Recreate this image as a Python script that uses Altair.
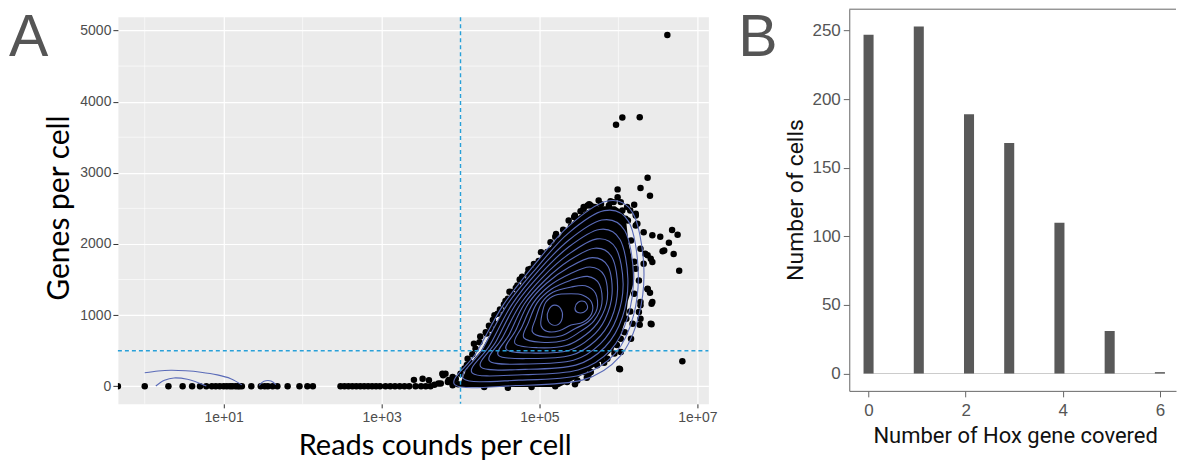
import altair as alt
import pandas as pd

# ======================= Panel A data =======================
# x values are log10(read count per cell); y values are genes per cell
zero_log10_reads = [-0.34, 0.00, 0.30, 0.48, 0.60, 0.70, 0.78, 0.85, 0.90, 0.95, 1.00, 1.04, 1.08,
                    1.11, 1.15, 1.18, 1.20, 1.23, 1.35, 1.47, 1.52, 1.56, 1.62, 1.68, 1.81, 1.96,
                    2.06, 2.13, 2.48, 2.53, 2.58, 2.63, 2.68, 2.73, 2.78, 2.83, 2.88, 2.93, 2.98,
                    3.05, 3.11, 3.17, 3.23, 3.29, 3.35, 3.41, 3.43, 3.50, 3.52, 3.56, 3.60, 3.62,
                    3.67, 3.72, 3.77, 3.78, 3.84, 3.90, 3.90, 3.94]
zero_genes = [0, 0, 0, 0, 0, 0, 0, 0, 0, 0, 0, 0, 0,
              0, 0, 0, 0, 0, 0, 0, 0, 0, 0, 0, 0, 0,
              0, 0, 0, 0, 0, 0, 0, 0, 0, 0, 0, 0, 0,
              0, 0, 0, 0, 0, 0, 90, 0, 0, 107, 0, 84, 0,
              20, 40, 177, 154, 60, 14, 60, 107]

# cells around the edge of the main cloud and outliers
cloud_log10_reads = [4.47, 4.43, 4.38, 4.17, 4.19, 4.09, 4.00, 3.90, 3.81, 4.64, 4.66, 4.81, 4.97,
                     5.10, 5.14, 5.23, 4.43, 4.72, 4.89, 5.02, 5.14, 5.27, 5.48, 5.61, 5.56, 5.82,
                     5.94, 6.03, 6.11, 6.22,
                     6.62, 6.05, 5.97, 6.27, 6.37, 5.99, 6.28, 6.40, 5.63, 5.99,
                     6.43, 6.53, 6.68, 6.75, 6.64, 6.56, 6.70, 6.77, 6.37, 6.40, 6.42, 6.42, 6.27,
                     6.81, 6.02, 6.22, 6.28, 6.37, 6.43, 6.32, 6.24, 6.32, 6.28, 6.28, 6.16, 6.03,
                     5.86, 5.73, 5.56, 5.35, 6.09, 6.22, 6.58, 6.34, 6.41, 6.22, 6.26, 6.37, 6.28,
                     6.43, 6.26, 6.18, 6.41, 6.03, 5.90, 5.78, 6.01, 5.65, 5.56, 5.65,
                     3.75, 3.85, 3.97, 4.05, 4.12, 4.25, 4.32, 4.55, 4.60, 4.75, 4.85, 4.93, 5.05,
                     5.20, 5.32, 5.40, 5.45, 5.52, 5.70, 5.78, 5.88, 6.15, 4.30, 4.60, 4.90, 5.20,
                     5.45, 5.60,
                     4.08, 4.15, 4.24, 4.33, 4.36, 4.41, 4.50, 4.57, 4.62, 4.70, 4.78, 4.86, 4.99,
                     5.06, 5.21, 5.30, 5.37, 5.44,
                     6.12, 6.20, 6.15, 6.10, 6.08, 5.98, 5.95, 5.82, 5.62, 5.48, 6.16, 6.20, 6.12,
                     6.05, 5.90, 5.75, 6.20]
cloud_genes = [1019, 879, 809, 598, 528, 388, 177, 131, 177, 1324, 1278, 1464, 1605,
               1886, 1909, 2027, 997, 1418, 1651, 1884, 2024, 2024, 2307, 2541, 2494, 2423,
               2588, 2588, 2518, 2423,
               4938, 3778, 3674, 3782, 2930, 2767, 2785, 2677, 2560, 2658,
               2121, 2101, 2195, 2129, 2017, 1896, 1858, 1624, 1362, 1315, 1160, 871, 865,
               351, 239, 2401, 1933, 1840, 1746, 1722, 2283, 2166, 1137, 949, 668, 482,
               388, 295, 201, 60, 2353, 2260, 1909, 1862, 1792, 1651, 1488, 1370, 1184,
               1184, 1043, 879, 879, 668, 528, 388, 247, 201, 2518, 2541,
               40, 90, 30, 250, 330, 700, 760, 1150, 1230, 1500, 1580, 1720, 1800,
               2100, 2150, 2250, 2400, 2460, 2520, 2560, 2540, 2470, -10, -20, -10, 0,
               30, 120,
               300, 450, 620, 740, 850, 930, 1080, 1200, 1330, 1380, 1540, 1640, 1760,
               1830, 2140, 2200, 2330, 2380,
               1400, 1300, 1050, 950, 760, 580, 460, 330, 150, 80, 2050, 1750, 2330,
               2470, 2600, 2610, 2550]

# solidly covered core of the cloud: for each genes level, the covered log10-read range
core_genes = [-10, 100, 200, 300, 400, 500, 600, 700, 800, 900, 1000, 1100, 1200, 1300,
              1400, 1500, 1600, 1700, 1800, 1900, 2000, 2100, 2200, 2300, 2400, 2470, 2530]
core_left = [3.98, 4.02, 4.06, 4.12, 4.18, 4.26, 4.31, 4.36, 4.41, 4.46, 4.51, 4.55, 4.61, 4.67,
             4.74, 4.81, 4.88, 4.95, 5.03, 5.10, 5.17, 5.25, 5.33, 5.41, 5.50, 5.60, 5.72]
core_right = [5.25, 5.45, 5.60, 5.72, 5.83, 5.92, 5.98, 6.02, 6.05, 6.08, 6.10, 6.11, 6.12, 6.15,
              6.18, 6.20, 6.20, 6.19, 6.17, 6.15, 6.13, 6.12, 6.11, 6.10, 6.08, 6.04, 5.96]

# closed density contours (innermost first)
ring_log10_reads = [
    [5.10, 5.12, 5.19, 5.27, 5.29, 5.24, 5.15],
    [5.45, 5.49, 5.57, 5.61, 5.56, 5.48],
    [5.02, 5.03, 5.08, 5.20, 5.40, 5.55, 5.66, 5.66, 5.55, 5.40, 5.25, 5.10],
    [4.91, 4.95, 5.03, 5.17, 5.40, 5.58, 5.71, 5.73, 5.62, 5.46, 5.28, 5.06],
    [4.80, 4.86, 4.97, 5.15, 5.39, 5.61, 5.76, 5.79, 5.69, 5.52, 5.31, 5.02],
    [4.69, 4.78, 4.92, 5.12, 5.39, 5.64, 5.82, 5.86, 5.76, 5.59, 5.34, 4.98],
    [4.58, 4.70, 4.86, 5.09, 5.38, 5.67, 5.87, 5.92, 5.83, 5.65, 5.37, 4.94],
    [4.48, 4.62, 4.81, 5.07, 5.38, 5.70, 5.92, 5.99, 5.91, 5.71, 5.40, 4.90],
    [4.37, 4.53, 4.76, 5.04, 5.38, 5.73, 5.97, 6.06, 5.98, 5.77, 5.43, 4.86],
    [4.26, 4.45, 4.70, 5.01, 5.37, 5.76, 6.02, 6.12, 6.05, 5.83, 5.46, 4.82],
    [4.15, 4.37, 4.65, 4.98, 5.37, 5.79, 6.08, 6.19, 6.12, 5.90, 5.49, 4.78],
    [4.04, 4.28, 4.59, 4.96, 5.36, 5.82, 6.13, 6.25, 6.19, 5.96, 5.52, 4.74],
    [3.93, 4.20, 4.54, 4.93, 5.36, 5.85, 6.18, 6.32, 6.26, 6.02, 5.55, 4.70],
]
ring_genes = [
    [960, 1080, 1140, 1090, 970, 870, 870],
    [1100, 1180, 1190, 1110, 1040, 1040],
    [850, 1000, 1180, 1280, 1300, 1280, 1180, 1020, 900, 860, 780, 770],
    [767, 947, 1176, 1322, 1394, 1412, 1306, 1090, 910, 816, 711, 694],
    [684, 894, 1172, 1364, 1488, 1544, 1432, 1160, 920, 772, 642, 618],
    [601, 841, 1168, 1406, 1582, 1676, 1558, 1230, 930, 728, 573, 542],
    [518, 788, 1164, 1448, 1676, 1808, 1684, 1300, 940, 684, 504, 466],
    [435, 735, 1160, 1490, 1770, 1940, 1810, 1370, 950, 640, 435, 390],
    [352, 682, 1156, 1532, 1864, 2072, 1936, 1440, 960, 596, 366, 314],
    [269, 629, 1152, 1574, 1958, 2204, 2062, 1510, 970, 552, 297, 238],
    [186, 576, 1148, 1616, 2052, 2336, 2188, 1580, 980, 508, 228, 162],
    [103, 523, 1144, 1658, 2146, 2468, 2314, 1650, 990, 464, 159, 86],
    [20, 470, 1140, 1700, 2240, 2600, 2440, 1720, 1000, 420, 90, 10],
]
# open contour arcs over the low-read cells (cut at the edge of the density grid)
arc_log10_reads = [
    [0.00, 0.17, 0.33, 0.52, 0.71, 0.92, 1.09, 1.23],
    [0.14, 0.25, 0.37, 0.54, 0.71, 0.78],
    [1.45, 1.51, 1.60, 1.66],
]
arc_genes = [
    [190, 215, 225, 218, 198, 160, 107, 20],
    [4, 84, 117, 98, 37, 4],
    [14, 70, 74, 22],
]

read_threshold_log10 = 4.0      # 1e+04 reads
gene_threshold = 500

a_x_ticks = [1, 3, 5, 7]
a_x_minor = [0, 2, 4, 6]
a_y_ticks = [0, 1000, 2000, 3000, 4000, 5000]
a_y_minor = [500, 1500, 2500, 3500, 4500]

# ======================= Panel B data =======================
hox_genes_covered = [0, 1, 2, 3, 4, 5, 6]
cells_count = [247, 253, 189, 168, 110, 31, 1]
b_x_ticks = [0, 2, 4, 6]
b_y_ticks = [0, 50, 100, 150, 200, 250]

# ======================= tables =======================
pts_df = pd.DataFrame({"l": zero_log10_reads + cloud_log10_reads,
                       "g": zero_genes + cloud_genes})
core_df = pd.DataFrame({"g": core_genes, "l": core_left, "r": core_right})
rows = []
for i, (ls, gs) in enumerate(zip(ring_log10_reads, ring_genes)):
    for j, (l, g) in enumerate(zip(ls, gs)):
        rows.append({"ring": i, "idx": j, "l": l, "g": g})
rings_df = pd.DataFrame(rows)
rows = []
for i, (ls, gs) in enumerate(zip(arc_log10_reads, arc_genes)):
    for j, (l, g) in enumerate(zip(ls, gs)):
        rows.append({"arc": i, "idx": j, "l": l, "g": g})
arcs_df = pd.DataFrame(rows)

# ======================= Panel A chart =======================
# the panel sits 8 px lower than panel B: the view is 8 px taller and that strip is masked
W_A, H_PANEL, TOP_GAP = 591, 387, 8
H_A = H_PANEL + TOP_GAP
y_lo, y_hi = -247, 5187
y_top = y_hi + TOP_GAP * (y_hi - y_lo) / H_PANEL
xs = alt.Scale(domain=[-0.34, 7.14], nice=False, zero=False)
ys = alt.Scale(domain=[y_lo, y_top], nice=False, zero=False)
ax_x = alt.Axis(values=a_x_ticks, labelExpr="'1e+0' + datum.value", labelFont="Liberation Sans",
                labelFontSize=14, labelColor="#4D4D4D", labelFlush=False, tickColor="#333333",
                tickSize=4, labelPadding=3, domain=False, grid=True, gridColor="white",
                gridWidth=1.2, title="Reads counds per cell", titleFont="Lato", titleFontSize=29,
                titleFontWeight="normal", titleColor="black", titleX=317, titleY=51,
                titleBaseline="alphabetic")
ax_y = alt.Axis(values=a_y_ticks, format="d", labelFont="Liberation Sans", labelFontSize=14,
                labelColor="#4D4D4D", labelFlush=False, tickColor="#333333", tickSize=5,
                labelPadding=2, domain=False, grid=True, gridColor="white", gridWidth=1.2,
                title="Genes per cell", titleFont="Lato", titleFontSize=30,
                titleFontWeight="normal", titleColor="black", titleX=-49, titleY=198.5,
                titleBaseline="alphabetic")


def AX(f):
    return alt.X(f + ":Q", scale=xs, axis=ax_x)


def AY(f):
    return alt.Y(f + ":Q", scale=ys, axis=ax_y)


mask = alt.Chart(pd.DataFrame({"a": [0]})).mark_rect(color="white").encode(
    x=alt.value(0), x2=alt.value(W_A + 1), y=alt.value(-1), y2=alt.value(TOP_GAP))
minor_v = alt.Chart(pd.DataFrame({"v": a_x_minor})).mark_rule(color="white", strokeWidth=0.6).encode(
    x=AX("v"), y=alt.value(TOP_GAP), y2=alt.value(H_A))
minor_h = alt.Chart(pd.DataFrame({"v": a_y_minor})).mark_rule(color="white", strokeWidth=0.6).encode(
    y=AY("v"), x=alt.value(0), x2=alt.value(W_A))
core = alt.Chart(core_df).mark_area(orient="horizontal", color="black", opacity=1).encode(
    y=AY("g"), x=AX("l"), x2="r:Q")
points = alt.Chart(pts_df).mark_circle(color="black", size=42, opacity=1, clip=True).encode(
    x=AX("l"), y=AY("g"))
CONTOUR = "#5A6BB8"
rings = alt.Chart(rings_df).mark_line(interpolate="cardinal-closed", color=CONTOUR,
                                      strokeWidth=1.1).encode(
    x=AX("l"), y=AY("g"), detail="ring:N", order="idx:Q")
arcs = alt.Chart(arcs_df).mark_line(interpolate="cardinal", color=CONTOUR, strokeWidth=1.1).encode(
    x=AX("l"), y=AY("g"), detail="arc:N", order="idx:Q")
DASH = "#28A0D8"
vline = alt.Chart(pd.DataFrame({"v": [read_threshold_log10]})).mark_rule(
    color=DASH, strokeDash=[4, 3], strokeWidth=1.4).encode(
    x=AX("v"), y=alt.value(TOP_GAP), y2=alt.value(H_A))
hline = alt.Chart(pd.DataFrame({"v": [gene_threshold]})).mark_rule(
    color=DASH, strokeDash=[4, 3], strokeWidth=1.4).encode(y=AY("v"), x=alt.value(0), x2=alt.value(W_A))
label_a = alt.Chart(pd.DataFrame({"t": ["A"]})).mark_text(
    align="left", baseline="top", font="Liberation Sans", fontSize=59, color="#555555").encode(
    x=alt.value(-109), y=alt.value(0), text="t:N")

chart_a = alt.layer(mask, minor_v, minor_h, core, points, rings, arcs, vline, hline, label_a).properties(
    width=W_A, height=H_A, view=alt.ViewBackground(fill="#EBEBEB", stroke="transparent"))

# ======================= Panel B chart =======================
W_B, H_B = 327, 382
bw = 6 / 29  # histogram bin width (30 bins over 0..6)
bars_df = pd.DataFrame({"hox": hox_genes_covered, "cells": cells_count})
bars_df["center"] = (bars_df["hox"] / bw).round() * bw
bars_df["x0"] = bars_df["center"] - bw / 2
bars_df["x1"] = bars_df["center"] + bw / 2
bars_df["base"] = 0

bxs = alt.Scale(domain=[-0.397, -0.397 + W_B / 48.6], nice=False, zero=False)
bys = alt.Scale(domain=[-12.65, 265.65], nice=False, zero=False)
bax_x = alt.Axis(values=b_x_ticks, format="d", labelFont="Liberation Sans", labelFontSize=17,
                 labelColor="#555555", labelFlush=False, tickColor="#666666", tickSize=6,
                 labelPadding=6, domainColor="#666666", domainWidth=1, grid=False,
                 title="Number of Hox gene covered", titleFont="Roboto", titleFontSize=22,
                 titleFontWeight="normal", titleColor="#111111", titleX=166, titleY=52,
                 titleBaseline="alphabetic")
bax_y = alt.Axis(values=b_y_ticks, format="d", labelFont="Liberation Sans", labelFontSize=17,
                 labelColor="#555555", labelFlush=False, tickColor="#666666", tickSize=6,
                 labelPadding=3, domainColor="#666666", domainWidth=1, grid=False,
                 title="Number of cells", titleFont="Roboto", titleFontSize=23,
                 titleFontWeight="normal", titleColor="#111111", titleX=-47, titleY=190.5,
                 titleBaseline="alphabetic")

baseline = alt.Chart(pd.DataFrame({"a": [-bw / 2], "b": [6 + bw / 2], "z": [0]})).mark_rule(
    color="#CCCCCC", strokeWidth=1).encode(
    x=alt.X("a:Q", scale=bxs, axis=bax_x), x2="b:Q", y=alt.Y("z:Q", scale=bys, axis=bax_y))
bars = alt.Chart(bars_df).mark_rect(color="#595959").encode(
    x=alt.X("x0:Q", scale=bxs, axis=bax_x), x2="x1:Q",
    y=alt.Y("cells:Q", scale=bys, axis=bax_y), y2="base:Q")
top_border = alt.Chart(pd.DataFrame({"a": [0]})).mark_rule(color="#666666", strokeWidth=1).encode(
    x=alt.value(0), x2=alt.value(W_B), y=alt.value(0))
label_b = alt.Chart(pd.DataFrame({"t": ["B"]})).mark_text(
    align="left", baseline="top", font="Liberation Sans", fontSize=59, color="#555555").encode(
    x=alt.value(-111), y=alt.value(0), text="t:N")

chart_b = alt.layer(baseline, bars, top_border, label_b).properties(width=W_B, height=H_B)

chart = alt.hconcat(chart_a, chart_b, spacing=141, bounds="flush").properties(
    padding={"left": 8, "top": 7, "right": 0, "bottom": 0}, background="white"
).configure_view(stroke="transparent")

chart.save("out.html", embed_options={"renderer": "svg", "actions": False})
